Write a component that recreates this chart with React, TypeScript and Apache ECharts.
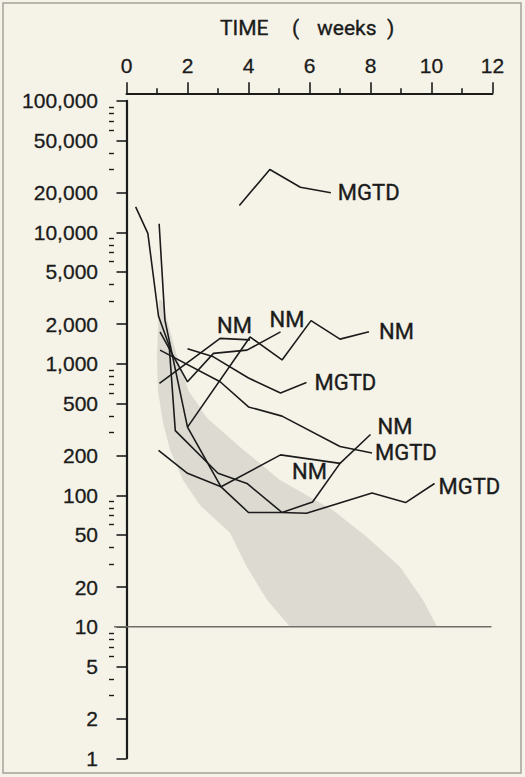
import React, { useEffect, useRef } from "react";
import * as echarts from "echarts";

// ---------- data ----------
const xTickValues = [0, 2, 4, 6, 8, 10, 12];
const yMajorTicks = [1, 2, 5, 10, 20, 50, 100, 200, 500, 1000, 2000, 5000, 10000, 20000, 50000, 100000];
const yMinorTicks = [
  3, 4, 6, 7, 8, 9,
  30, 40, 60, 70, 80, 90,
  300, 400, 600, 700, 800, 900,
  3000, 4000, 6000, 7000, 8000, 9000,
  30000, 40000, 60000, 70000, 80000, 90000,
];

const mgtdTopWeeks = [3.7, 4.7, 5.7, 6.7];
const mgtdTopValues = [16000, 30000, 22000, 20000];

const mgtdMidWeeks = [2.0, 2.85, 4.0, 5.05, 5.9];
const mgtdMidValues = [1300, 1130, 780, 600, 720];

const nmRightWeeks = [2.0, 4.05, 5.1, 6.05, 7.0, 7.95];
const nmRightValues = [330, 1600, 1070, 2130, 1540, 1750];

const nmLeftWeeks = [1.08, 3.07, 4.05];
const nmLeftValues = [710, 1560, 1520];

const nm2Weeks = [1.1, 2.0, 2.85, 3.95, 5.05];
const nm2Values = [1750, 730, 1200, 1270, 1750];

const mgtd200Weeks = [1.1, 3.07, 4.0, 5.1, 7.0, 8.05];
const mgtd200Values = [1270, 730, 470, 400, 235, 210];

const nmLowWeeks = [0.3, 0.7, 1.05, 1.4, 1.6, 3.0, 3.95, 5.1, 6.1, 7.0, 8.0];
const nmLowValues = [15600, 9800, 2300, 1370, 310, 147, 123, 74, 89, 175, 290];

const mgtdLowWeeks = [1.07, 1.26, 2.0, 3.1, 4.0, 5.1, 5.9, 8.05, 9.15, 10.1];
const mgtdLowValues = [11600, 2150, 330, 116, 74, 74, 73, 104, 88, 123];

const nmMidWeeks = [1.05, 2.0, 3.1, 5.05, 7.0];
const nmMidValues = [220, 147, 116, 203, 175];

// shaded (stippled) band: left edge top->bottom, right edge bottom->top
const bandLeftWeeks = [1.07, 1.0, 1.03, 1.2, 1.43, 1.85, 2.41, 3.39, 3.95, 4.61, 5.36];
const bandLeftValues = [3050, 1130, 630, 355, 221, 131, 84, 52, 28.5, 16, 10];
const bandRightWeeks = [10.18, 9.72, 8.97, 7.89, 6.77, 5.03, 3.72, 2.64, 2.02, 1.66, 1.33, 1.16];
const bandRightValues = [10, 16, 28.5, 48, 77, 131, 233, 387, 632, 1130, 2150, 3050];

const refLineValue = 10;

// ---------- styles ----------
const INK = "#1b1b1b";
const BG = "#f5f3e8";
const FONT_NUM = "'Liberation Sans', Arial, sans-serif";
const FONT_TXT = "Roboto, 'Liberation Sans', sans-serif";
const Y_AXIS_SHIFT = 12.5;

const zip = (w: number[], v: number[]) => w.map((t, i) => [t, v[i]]);

const lineDefs = [
  { name: "MGTD-1", text: "MGTD", weeks: mgtdTopWeeks, values: mgtdTopValues, off: [7, 0] },
  { name: "MGTD-2", text: "MGTD", weeks: mgtdMidWeeks, values: mgtdMidValues, off: [8, 0] },
  { name: "NM-1", text: "NM", weeks: nmRightWeeks, values: nmRightValues, off: [10, 0] },
  { name: "NM-2", text: "NM", weeks: nmLeftWeeks, values: nmLeftValues, off: [-33, -14] },
  { name: "NM-3", text: "NM", weeks: nm2Weeks, values: nm2Values, off: [-11, -12] },
  { name: "MGTD-3", text: "MGTD", weeks: mgtd200Weeks, values: mgtd200Values, off: [3, 0] },
  { name: "NM-4", text: "NM", weeks: nmLowWeeks, values: nmLowValues, off: [7, -8] },
  { name: "MGTD-4", text: "MGTD", weeks: mgtdLowWeeks, values: mgtdLowValues, off: [4, 3] },
  { name: "NM-5", text: "NM", weeks: nmMidWeeks, values: nmMidValues, off: [-48, 8] },
];

const textStyle = (text: string, x: number, y: number) => ({
  type: "text",
  x,
  y,
  style: {
    text,
    fill: INK,
    fontSize: 21,
    fontFamily: FONT_TXT,
    align: "left",
    verticalAlign: "middle",
    stroke: INK,
    lineWidth: 0.35,
  },
});

export default function App() {
  const ref = useRef<HTMLDivElement>(null);

  useEffect(() => {
    if (!ref.current) return;
    const chart = echarts.init(ref.current, null, { renderer: "svg" });

    const bandPoints = [...zip(bandLeftWeeks, bandLeftValues), ...zip(bandRightWeeks, bandRightValues)];

    const lineSeries = lineDefs.map((d) => ({
      name: d.name,
      type: "line",
      xAxisIndex: 0,
      yAxisIndex: 0,
      data: zip(d.weeks, d.values),
      showSymbol: false,
      symbol: "none",
      z: 5,
      lineStyle: { color: INK, width: 1.6 },
      endLabel: {
        show: true,
        formatter: d.text,
        distance: 0,
        offset: d.off,
        color: INK,
        fontSize: 22,
        fontFamily: FONT_TXT,
        textBorderColor: INK,
        textBorderWidth: 0.35,
      },
      emphasis: { disabled: true },
    }));

    const option: any = {
      animation: false,
      backgroundColor: BG,
      grid: { left: 126.5, top: 100.8, width: 366, height: 657.5, containLabel: false, outerBoundsMode: "none" },
      xAxis: {
        type: "value",
        position: "top",
        min: 0,
        max: 12,
        interval: 2,
        offset: 7.5,
        axisLine: { show: true, lineStyle: { color: INK, width: 2 } },
        axisTick: { show: true, length: 11, lineStyle: { color: INK, width: 1.6 } },
        minorTick: { show: true, splitNumber: 2, length: 5, lineStyle: { color: INK, width: 1.6 } },
        axisLabel: {
          show: true,
          margin: 17,
          color: INK,
          fontSize: 21,
          fontFamily: FONT_NUM,
          textBorderColor: INK,
          textBorderWidth: 0.3,
          customValues: xTickValues,
        },
        splitLine: { show: false },
        minorSplitLine: { show: false },
      },
      yAxis: [
        {
          type: "log",
          logBase: 10,
          min: 1,
          max: 100000,
          position: "left",
          offset: Y_AXIS_SHIFT,
          axisLine: { show: true, lineStyle: { color: INK, width: 2.2 } },
          axisTick: { show: true, length: 10, customValues: yMajorTicks, lineStyle: { color: INK, width: 1.6 } },
          axisLabel: {
            show: true,
            margin: 16,
            color: INK,
            fontSize: 21,
            fontFamily: FONT_NUM,
            textBorderColor: INK,
            textBorderWidth: 0.3,
            customValues: yMajorTicks,
            formatter: (v: number) => Math.round(v).toLocaleString("en-US"),
          },
          splitLine: { show: false },
        },
        {
          type: "log",
          logBase: 10,
          min: 1,
          max: 100000,
          position: "left",
          offset: Y_AXIS_SHIFT,
          axisLine: { show: false },
          axisTick: { show: true, length: 5, customValues: yMinorTicks, lineStyle: { color: INK, width: 1.4 } },
          axisLabel: { show: false },
          splitLine: { show: false },
        },
      ],
      graphic: [
        {
          type: "rect",
          silent: true,
          z: -10,
          shape: { x: 3, y: 3, width: 518, height: 770 },
          style: { fill: "none", stroke: "#a4a39c", lineWidth: 1.5 },
        },
        textStyle("TIME", 220, 28),
        textStyle("(", 292, 28),
        textStyle("weeks", 317, 28),
        textStyle(")", 387, 28),
      ],
      series: [
        {
          name: "band",
          type: "custom",
          xAxisIndex: 0,
          yAxisIndex: 0,
          silent: true,
          z: 1,
          data: [[bandLeftWeeks[0], bandLeftValues[0]]],
          renderItem: (params: any, api: any) => {
            if (params.dataIndex !== 0) return null;
            const pts = bandPoints.map((p) => api.coord(p));
            return {
              type: "polygon",
              shape: { points: pts },
              style: { fill: "rgba(120,120,118,0.2)", stroke: "none" },
            };
          },
        },
        {
          name: "ref10",
          type: "custom",
          xAxisIndex: 0,
          yAxisIndex: 0,
          silent: true,
          clip: false,
          z: 2,
          data: [[0, refLineValue], [12, refLineValue]],
          renderItem: (params: any, api: any) => {
            if (params.dataIndex !== 0) return null;
            const a = api.coord([0, refLineValue]);
            const b = api.coord([12, refLineValue]);
            return {
              type: "line",
              shape: { x1: a[0] - Y_AXIS_SHIFT, y1: a[1], x2: b[0] - 1, y2: b[1] },
              style: { stroke: "#6f6f6a", lineWidth: 1.6 },
            };
          },
        },
        ...lineSeries,
      ],
    };

    chart.setOption(option);
    return () => chart.dispose();
  }, []);

  return (
    <div
      ref={ref}
      style={{ position: "absolute", left: 0, top: 0, width: 525, height: 777, background: BG }}
    />
  );
}
